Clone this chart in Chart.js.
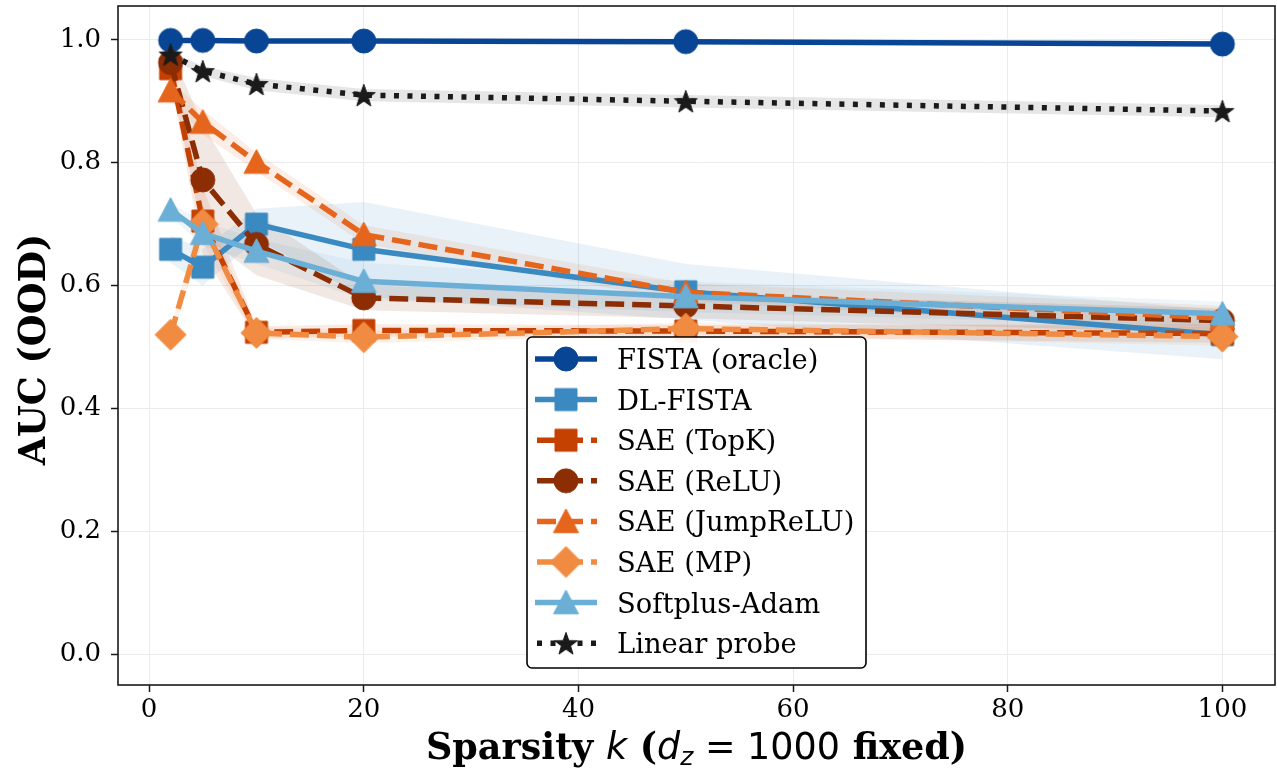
<!DOCTYPE html>
<html>
<head>
<meta charset="utf-8">
<script src="https://cdn.jsdelivr.net/npm/chart.js@4.4.1/dist/chart.umd.min.js"></script>
<style>
  html, body { margin: 0; padding: 0; background: #fff; }
  #wrap { width: 1277px; height: 774px; }
</style>
</head>
<body>
<div id="wrap"><canvas id="chart"></canvas></div>
<script>
// sparsity levels on the x axis
const kValues = [2, 5, 10, 20, 50, 100];
const xTicks = [0, 20, 40, 60, 80, 100];
const yTicks = [0.0, 0.2, 0.4, 0.6, 0.8, 1.0];

// mean AUC per method
const fistaOracle = [0.999, 0.999, 0.998, 0.998, 0.997, 0.993];
const dlFista     = [0.659, 0.630, 0.700, 0.659, 0.590, 0.520];
const saeTopK     = [0.953, 0.705, 0.524, 0.527, 0.526, 0.522];
const saeRelu     = [0.963, 0.772, 0.667, 0.580, 0.567, 0.543];
const saeJump     = [0.917, 0.866, 0.801, 0.683, 0.589, 0.547];
const saeMp       = [0.520, 0.700, 0.523, 0.516, 0.530, 0.517];
const softplus    = [0.723, 0.685, 0.656, 0.607, 0.582, 0.554];
const linProbe    = [0.976, 0.949, 0.928, 0.910, 0.900, 0.884];

// spread (+/-) around each mean, shaded
const fistaSpread = [0.002, 0.002, 0.002, 0.002, 0.002, 0.003];
const dlSpread    = [0.022, 0.030, 0.025, 0.077, 0.045, 0.040];
const topkSpread  = [0.020, 0.055, 0.010, 0.010, 0.010, 0.015];
const reluSpread  = [0.020, 0.090, 0.050, 0.020, 0.020, 0.020];
const jumpSpread  = [0.015, 0.020, 0.015, 0.015, 0.015, 0.020];
const mpSpread    = [0.010, 0.030, 0.010, 0.010, 0.010, 0.015];
const softSpread  = [0.010, 0.020, 0.020, 0.030, 0.025, 0.020];
const probeSpread = [0.005, 0.008, 0.010, 0.010, 0.010, 0.010];

const methods = [
  { label: 'FISTA (oracle)',  mean: fistaOracle, spread: fistaSpread, color: '#084594', marker: 'circle',   size: 24, dash: [] },
  { label: 'DL-FISTA',        mean: dlFista,     spread: dlSpread,    color: '#3a89c1', marker: 'square',   size: 22, dash: [] },
  { label: 'SAE (TopK)',      mean: saeTopK,     spread: topkSpread,  color: '#c54102', marker: 'square',   size: 22, dash: [19, 8] },
  { label: 'SAE (ReLU)',      mean: saeRelu,     spread: reluSpread,  color: '#8c2d04', marker: 'circle',   size: 24, dash: [19, 8] },
  { label: 'SAE (JumpReLU)',  mean: saeJump,     spread: jumpSpread,  color: '#e6651c', marker: 'triangle', size: 25, dash: [19, 8] },
  { label: 'SAE (MP)',        mean: saeMp,       spread: mpSpread,    color: '#f08b41', marker: 'diamond',  size: 31, dash: [19, 8] },
  { label: 'Softplus-Adam',   mean: softplus,    spread: softSpread,  color: '#6baed6', marker: 'triangle', size: 25, dash: [] },
  { label: 'Linear probe',    mean: linProbe,    spread: probeSpread, color: '#1a1a1a', marker: 'star',     size: 24, dash: [5, 8.5] }
];

function makeMarker(shape, color, size) {
  const pad = 2;
  const c = document.createElement('canvas');
  c.width = c.height = Math.ceil(size + pad * 2);
  const g = c.getContext('2d');
  const m = c.width / 2, r = size / 2;
  g.fillStyle = color;
  g.strokeStyle = color;
  g.lineWidth = 1;
  g.beginPath();
  if (shape === 'circle') {
    g.arc(m, m, r, 0, Math.PI * 2);
  } else if (shape === 'square') {
    g.rect(m - r, m - r, size, size);
  } else if (shape === 'triangle') {
    g.moveTo(m, m - r); g.lineTo(m + r, m + r * 0.9); g.lineTo(m - r, m + r * 0.9); g.closePath();
  } else if (shape === 'diamond') {
    g.moveTo(m, m - r); g.lineTo(m + r, m); g.lineTo(m, m + r); g.lineTo(m - r, m); g.closePath();
  } else if (shape === 'star') {
    for (let i = 0; i < 10; i++) {
      const rr = i % 2 ? r * 0.4 : r;
      const a = -Math.PI / 2 + i * Math.PI / 5;
      const px = m + rr * Math.cos(a), py = m + rr * Math.sin(a) + r * 0.1;
      if (i) g.lineTo(px, py); else g.moveTo(px, py);
    }
    g.closePath();
  }
  g.fill();
  g.stroke();
  return c;
}

function hexToRgba(hex, a) {
  const n = parseInt(hex.slice(1), 16);
  return `rgba(${(n >> 16) & 255},${(n >> 8) & 255},${n & 255},${a})`;
}

const toPoints = arr => kValues.map((k, i) => ({ x: k, y: arr[i] }));

const datasets = [];
methods.forEach((m, i) => {
  m.icon = makeMarker(m.marker, m.color, m.size);
  datasets.push({
    label: m.label,
    data: toPoints(m.mean),
    borderColor: m.color,
    backgroundColor: m.color,
    borderWidth: 5.5,
    borderDash: m.dash,
    borderCapStyle: m.dash.length ? 'butt' : 'round',
    borderJoinStyle: 'round',
    pointStyle: m.icon,
    pointRadius: 10,
    fill: false,
    tension: 0,
    order: methods.length - i
  });
});
// shaded bands go underneath all lines
methods.forEach((m, i) => {
  datasets.push({
    label: '_band_hi',
    data: toPoints(m.mean.map((v, j) => v + m.spread[j])),
    borderWidth: 0,
    pointRadius: 0,
    backgroundColor: hexToRgba(m.color, 0.11),
    fill: '+1',
    tension: 0,
    order: 100 + i
  });
  datasets.push({
    label: '_band_lo',
    data: toPoints(m.mean.map((v, j) => v - m.spread[j])),
    borderWidth: 0,
    pointRadius: 0,
    fill: false,
    tension: 0,
    order: 100 + i
  });
});

const serif = '"DejaVu Serif", serif';
const sans = '"DejaVu Sans", sans-serif';

const framePlugin = {
  id: 'frame',
  afterDatasetsDraw(chart) {
    const { ctx, chartArea: a } = chart;
    ctx.save();
    ctx.strokeStyle = '#1a1a1a';
    ctx.lineWidth = 1.6;
    ctx.strokeRect(a.left, a.top, a.right - a.left, a.bottom - a.top);
    ctx.restore();
  }
};

const legendPlugin = {
  id: 'mplLegend',
  afterDraw(chart) {
    const ctx = chart.ctx;
    const box = { x: 527, y: 337, w: 339, h: 331 };
    ctx.save();
    ctx.beginPath();
    ctx.roundRect(box.x, box.y, box.w, box.h, 5);
    ctx.fillStyle = 'rgba(255,255,255,0.95)';
    ctx.fill();
    ctx.strokeStyle = '#000';
    ctx.lineWidth = 1.6;
    ctx.stroke();
    ctx.font = `27.4px ${serif}`;
    ctx.textBaseline = 'alphabetic';
    methods.forEach((m, i) => {
      const cy = 359 + i * 40.6;
      ctx.beginPath();
      ctx.setLineDash(m.dash);
      ctx.lineDashOffset = m.dash.length ? -2 : 0;
      ctx.strokeStyle = m.color;
      ctx.lineWidth = 5.5;
      ctx.lineCap = 'butt';
      ctx.moveTo(535, cy);
      ctx.lineTo(597, cy);
      ctx.stroke();
      ctx.setLineDash([]);
      ctx.drawImage(m.icon, 566 - m.icon.width / 2, cy - m.icon.height / 2);
      ctx.fillStyle = '#000';
      ctx.fillText(m.label, 617, cy + 10);
    });
    ctx.restore();
  }
};

const titlesPlugin = {
  id: 'axisTitles',
  afterDraw(chart) {
    const { ctx, chartArea: a } = chart;
    ctx.save();
    ctx.fillStyle = '#000';
    // y axis title
    ctx.font = `bold 36.5px ${serif}`;
    ctx.textAlign = 'center';
    ctx.translate(45, (a.top + a.bottom) / 2 + 4);
    ctx.rotate(-Math.PI / 2);
    ctx.fillText('AUC (OOD)', 0, 0);
    ctx.restore();

    // x axis title, with math-style k and d_z
    ctx.save();
    ctx.fillStyle = '#000';
    const parts = [
      { t: 'Sparsity ', f: `bold 36.5px ${serif}`, dy: 0 },
      { t: 'k', f: `italic 36.5px ${sans}`, dy: 0 },
      { t: ' (', f: `bold 36.5px ${serif}`, dy: 0 },
      { t: 'd', f: `italic 36.5px ${sans}`, dy: 0 },
      { t: 'z', f: `italic 25px ${sans}`, dy: 6 },
      { t: ' = 1000', f: `36.5px ${sans}`, dy: 0 },
      { t: ' fixed)', f: `bold 36.5px ${serif}`, dy: 0 }
    ];
    let total = 0;
    parts.forEach(p => { ctx.font = p.f; p.w = ctx.measureText(p.t).width; total += p.w; });
    let x = (a.left + a.right) / 2 - total / 2;
    const base = 759;
    ctx.textAlign = 'left';
    parts.forEach(p => { ctx.font = p.f; ctx.fillText(p.t, x, base + p.dy); x += p.w; });
    ctx.restore();
  }
};

// keep the plot box fixed: no extra room for edge labels
function noEdgePadding(s) {
  s.paddingTop = 0; s.paddingBottom = 0; s.paddingLeft = 0; s.paddingRight = 0;
}

new Chart(document.getElementById('chart'), {
  type: 'line',
  data: { datasets },
  options: {
    responsive: true,
    maintainAspectRatio: false,
    animation: false,
    events: [],
    layout: { autoPadding: false, padding: { top: 6, right: 2, left: 0, bottom: 0 } },
    plugins: {
      legend: { display: false },
      tooltip: { enabled: false },
      filler: { propagate: false }
    },
    scales: {
      x: {
        type: 'linear',
        min: -2.9,
        max: 104.9,
        afterBuildTicks: s => { s.ticks = xTicks.map(v => ({ value: v })); },
        afterFit: s => { s.height = 89; noEdgePadding(s); },
        grid: { color: '#ebebeb', lineWidth: 1, tickLength: 7, tickColor: '#1a1a1a', tickWidth: 1.5 },
        border: { display: false },
        ticks: { color: '#000', font: { family: serif, size: 26 }, padding: 3, maxRotation: 0,
                 callback: v => String(v) }
      },
      y: {
        type: 'linear',
        min: -0.05,
        max: 1.055,
        afterBuildTicks: s => { s.ticks = yTicks.map(v => ({ value: v })); },
        afterFit: s => { s.width = 118; noEdgePadding(s); },
        grid: { color: '#ebebeb', lineWidth: 1, tickLength: 7, tickColor: '#1a1a1a', tickWidth: 1.5 },
        border: { display: false },
        ticks: { color: '#000', font: { family: serif, size: 26 }, padding: 10,
                 callback: v => Number(v).toFixed(1) }
      }
    }
  },
  plugins: [framePlugin, legendPlugin, titlesPlugin]
});
</script>
</body>
</html>
